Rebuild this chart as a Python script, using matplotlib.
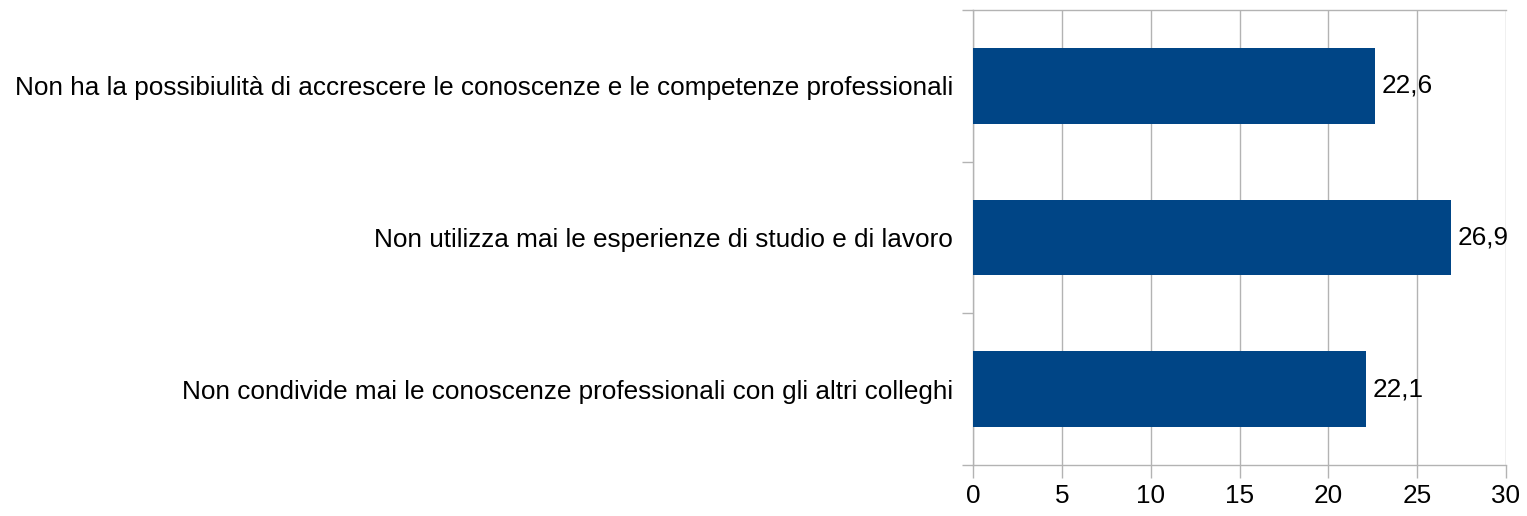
import matplotlib
matplotlib.use('Agg')
import matplotlib.pyplot as plt

# Categories from top to bottom, as in the picture
categories = [
    'Non ha la possibiulità di accrescere le conoscenze e le competenze professionali',
    'Non utilizza mai le esperienze di studio e di lavoro',
    'Non condivide mai le conoscenze professionali con gli altri colleghi',
]
values = [22.6, 26.9, 22.1]
x_ticks = [0, 5, 10, 15, 20, 25, 30]

plt.rcParams['font.family'] = ['Liberation Sans', 'DejaVu Sans']
fs = 18.8
grey = '#b3b3b3'

fig = plt.figure(figsize=(15.27, 5.16), dpi=100)
ax = fig.add_axes([973 / 1527, 1 - 465 / 516, (1506 - 973) / 1527, (465 - 10) / 516])

# reversed so the first category ends up on top
pos = list(range(len(categories)))[::-1]
ax.barh(pos, values, height=0.5, color='#004586', zorder=3)

for p, v in zip(pos, values):
    ax.text(v + 0.4, p, f'{v:.1f}'.replace('.', ','), va='center', ha='left',
            fontsize=fs, color='black', zorder=4)

ax.set_xlim(0, 30)
ax.set_ylim(-0.5, len(categories) - 0.5)
ax.set_xticks(x_ticks)
ax.set_xticklabels([str(t) for t in x_ticks], fontsize=fs)
ax.xaxis.grid(True, color=grey, linewidth=1.0, zorder=0)

# category labels sit between the boundary ticks
ax.set_yticks([p + 0.5 for p in range(-1, len(categories))])
ax.set_yticklabels([])
ax.set_yticks(pos, minor=True)
ax.set_yticklabels(categories, minor=True, fontsize=fs)
ax.tick_params(axis='y', which='minor', length=0, pad=14.5)
ax.tick_params(axis='y', which='major', length=8, color=grey, width=1.0)
ax.tick_params(axis='x', length=9, color=grey, width=1.0, pad=5)

for side in ['left', 'top', 'bottom']:
    ax.spines[side].set_color(grey)
    ax.spines[side].set_linewidth(1.0)
ax.spines['right'].set_visible(False)

fig.savefig('out.png', dpi=100)
